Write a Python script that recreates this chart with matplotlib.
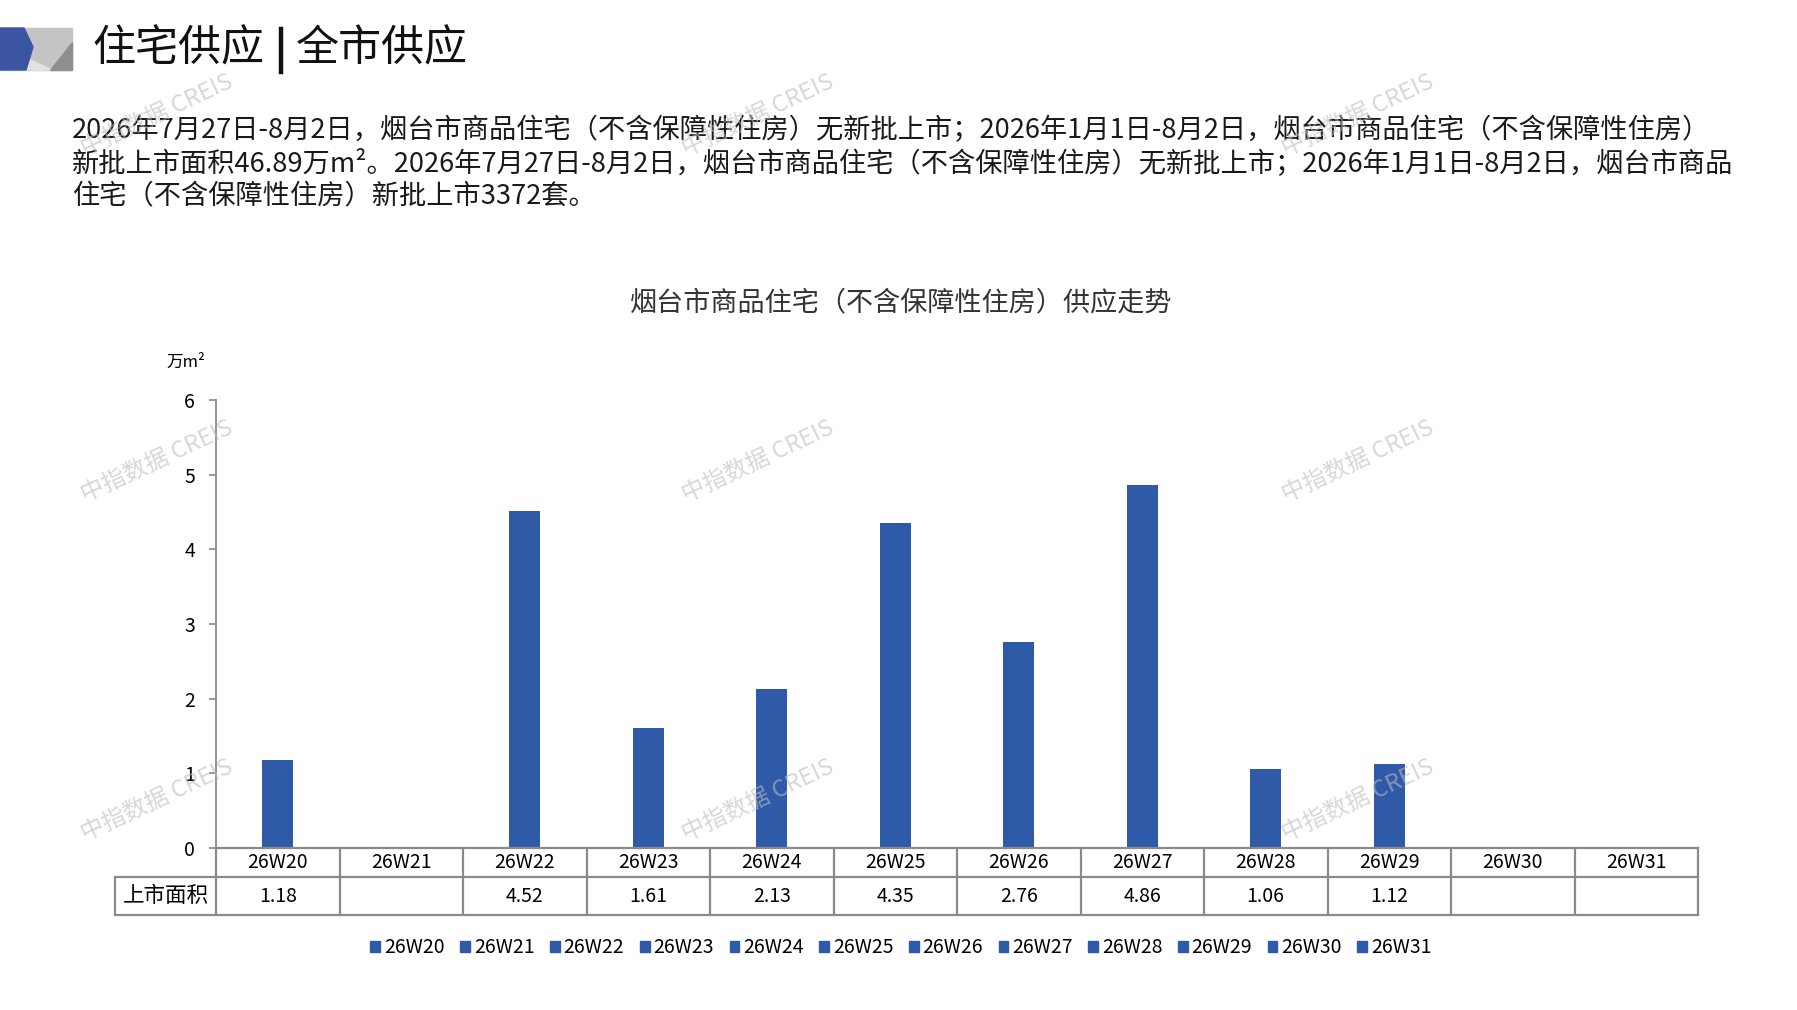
import matplotlib
matplotlib.use("Agg")
import matplotlib.pyplot as plt
from matplotlib.patches import Polygon, Patch
from matplotlib.lines import Line2D

plt.rcParams['font.family'] = ['Noto Sans CJK SC', 'DejaVu Sans']

# data
weeks = ['26W20', '26W21', '26W22', '26W23', '26W24', '26W25',
         '26W26', '26W27', '26W28', '26W29', '26W30', '26W31']
area = [1.18, None, 4.52, 1.61, 2.13, 4.35, 2.76, 4.86, 1.06, 1.12, None, None]
row_label = '上市面积'
unit = '万m²'
title_left = '住宅供应'
title_right = '全市供应'
chart_title = '烟台市商品住宅（不含保障性住房）供应走势'
para = [
    '2026年7月27日-8月2日，烟台市商品住宅（不含保障性住房）无新批上市；2026年1月1日-8月2日，烟台市商品住宅（不含保障性住房）',
    '新批上市面积46.89万m²。2026年7月27日-8月2日，烟台市商品住宅（不含保障性住房）无新批上市；2026年1月1日-8月2日，烟台市商品',
    '住宅（不含保障性住房）新批上市3372套。',
]
watermark = '中指数据 CREIS'

W, H = 1797, 1010
blue = '#2f5aa8'
grid_c = '#8a8a8a'

fig = plt.figure(figsize=(W / 100, H / 100), dpi=100)

def fx(px):
    return px / W

def fy(py):
    return 1 - py / H

# header graphic
fig.add_artist(Polygon([(fx(0), fy(28)), (fx(72), fy(28)), (fx(72), fy(70)), (fx(0), fy(70))],
                       closed=True, color='#c4c4c4', transform=fig.transFigure))
fig.add_artist(Polygon([(fx(0), fy(46)), (fx(52), fy(70)), (fx(0), fy(70))],
                       closed=True, color='#e2e2e2', transform=fig.transFigure))
fig.add_artist(Polygon([(fx(72), fy(42)), (fx(72), fy(70)), (fx(50), fy(70))],
                       closed=True, color='#8e8e8e', transform=fig.transFigure))
fig.add_artist(Polygon([(fx(0), fy(28)), (fx(24), fy(28)), (fx(33), fy(47)), (fx(26), fy(70)), (fx(0), fy(70))],
                       closed=True, color='#3b55a3', transform=fig.transFigure))
fig.text(fx(92), fy(50), title_left, fontsize=31, va='center', ha='left', color='#111111')
fig.add_artist(Line2D([fx(281), fx(281)], [fy(29), fy(72)], color='#111111', lw=3.2,
                      transform=fig.transFigure))
fig.text(fx(296), fy(50), title_right, fontsize=31, va='center', ha='left', color='#111111')

for i, line in enumerate(para):
    fig.text(fx(72), fy(130 + 33 * i), line, fontsize=19.6, va='center', ha='left',
             color='#1a1a1a', fontweight='light')

fig.text(fx(901), fy(303), chart_title, fontsize=19.5, ha='center', va='center',
         color='#333333', fontweight='light')

ax = fig.add_axes([fx(216), fy(848), fx(1698) - fx(216), fy(400) - fy(848)])
x = list(range(len(weeks)))
heights = [v if v is not None else 0 for v in area]
ax.bar(x, heights, width=0.25, color=blue, zorder=2)
ax.set_xlim(-0.5, len(weeks) - 0.5)
ax.set_ylim(0, 6)
ax.set_yticks(range(0, 7))
ax.tick_params(axis='y', labelsize=14, color=grid_c, length=5, width=1.2, pad=10)
ax.set_xticks([])
for s in ['top', 'right']:
    ax.spines[s].set_visible(False)
ax.spines['left'].set_color(grid_c)
ax.spines['left'].set_linewidth(1.3)
ax.spines['bottom'].set_visible(False)
fig.text(fx(186), fy(362), unit, fontsize=12, ha='center', va='center')

# data table under the axis
tr = ax.get_xaxis_transform()
ax_h = fy(400) - fy(848)
r1 = -(29 / H) / ax_h
r2 = -(67 / H) / ax_h
left_edge = -0.5 - (216 - 115) / ((1698 - 216) / len(weeks))
right_edge = len(weeks) - 0.5
lk = dict(color=grid_c, lw=1.6, transform=tr, clip_on=False)
ax.plot([-0.5, right_edge], [0, 0], **lk)
ax.plot([left_edge, right_edge], [r1, r1], **lk)
ax.plot([left_edge, right_edge], [r2, r2], **lk)
ax.plot([left_edge, left_edge], [r1, r2], **lk)
for k in range(len(weeks) + 1):
    ax.plot([k - 0.5, k - 0.5], [0, r2], **lk)
for i, w in enumerate(weeks):
    ax.text(i, r1 / 2, w, transform=tr, ha='center', va='center', fontsize=14)
    if area[i] is not None:
        ax.text(i, (r1 + r2) / 2, '%.2f' % area[i], transform=tr, ha='center', va='center', fontsize=14)
ax.text((left_edge - 0.5) / 2, (r1 + r2) / 2, row_label, transform=tr, ha='center', va='center', fontsize=15.5)

handles = [Patch(color=blue, label=w) for w in weeks]
fig.legend(handles=handles, loc='center', bbox_to_anchor=(fx(901), fy(948)), ncol=len(weeks),
           frameon=False, fontsize=14, handlelength=0.5, handleheight=0.5,
           handletextpad=0.2, columnspacing=0.8)

# watermarks
for wy in [115, 461, 800]:
    for wx in [157, 758, 1358]:
        fig.text(fx(wx), fy(wy), watermark, fontsize=17, rotation=25, ha='center', va='center',
                 color='#bdbdbd', alpha=0.6, zorder=10)

fig.savefig('out.png', dpi=100)
